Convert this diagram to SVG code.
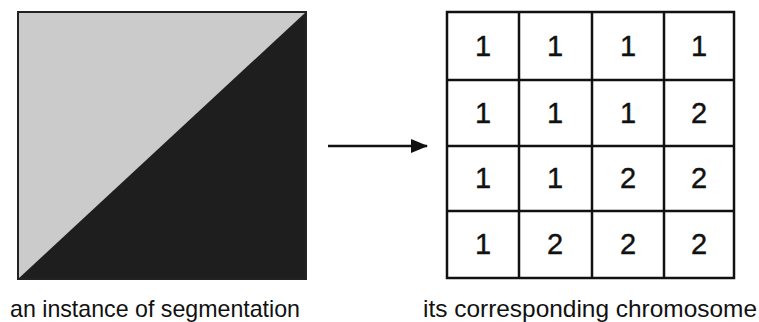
<svg xmlns="http://www.w3.org/2000/svg" width="759" height="322" viewBox="0 0 759 322">
  <defs>
    <marker id="arrowhead" markerWidth="17" markerHeight="14" refX="16" refY="7" orient="auto" markerUnits="userSpaceOnUse">
      <path d="M0,0 L17,7 L0,14 Z" fill="#111"/>
    </marker>
    <style>
      .label { font-family: "Liberation Sans", Arial, sans-serif; font-size: 24px; fill: #111; }
      .gene { font-family: "Liberation Sans", Arial, sans-serif; font-size: 29px; fill: #111; text-anchor: middle; dominant-baseline: central; stroke: #111; stroke-width: 0.4; }
      .cell { fill: #fff; stroke: #111; stroke-width: 2.5; }
    </style>
  </defs>

  <rect width="759" height="322" fill="#fff"/>

  <!-- segmented image: light region above the diagonal, dark below -->
  <g id="segmentation">
    <rect x="18" y="12" width="288" height="267" fill="#cbcbcb"/>
    <polygon points="18,279 306,12 306,279" fill="#1e1e1e"/>
    <rect x="18" y="12" width="288" height="267" fill="none" stroke="#222" stroke-width="2"/>
    <text class="label" x="10" y="317" textLength="290" lengthAdjust="spacingAndGlyphs">an instance of segmentation</text>
  </g>

  <g id="connectors">
    <line x1="328" y1="146" x2="427" y2="146" stroke="#111" stroke-width="2.5" marker-end="url(#arrowhead)"/>
  </g>

  <!-- 4x4 chromosome grid -->
  <g id="chromosome">
    <g class="cell">
      <rect x="447" y="12" width="287" height="266"/>
    </g>
    <g stroke="#111" stroke-width="2.5">
      <line x1="519" y1="12" x2="519" y2="278"/>
      <line x1="592" y1="12" x2="592" y2="278"/>
      <line x1="664" y1="12" x2="664" y2="278"/>
      <line x1="447" y1="80" x2="734" y2="80"/>
      <line x1="447" y1="146" x2="734" y2="146"/>
      <line x1="447" y1="211" x2="734" y2="211"/>
    </g>
    <text class="gene" x="483" y="46">1</text>
    <text class="gene" x="555" y="46">1</text>
    <text class="gene" x="628" y="46">1</text>
    <text class="gene" x="699" y="46">1</text>
    <text class="gene" x="483" y="113">1</text>
    <text class="gene" x="555" y="113">1</text>
    <text class="gene" x="628" y="113">1</text>
    <text class="gene" x="699" y="113">2</text>
    <text class="gene" x="483" y="178">1</text>
    <text class="gene" x="555" y="178">1</text>
    <text class="gene" x="628" y="178">2</text>
    <text class="gene" x="699" y="178">2</text>
    <text class="gene" x="483" y="244">1</text>
    <text class="gene" x="555" y="244">2</text>
    <text class="gene" x="628" y="244">2</text>
    <text class="gene" x="699" y="244">2</text>
    <text class="label" x="423" y="317" textLength="334" lengthAdjust="spacingAndGlyphs">its corresponding chromosome</text>
  </g>
</svg>
